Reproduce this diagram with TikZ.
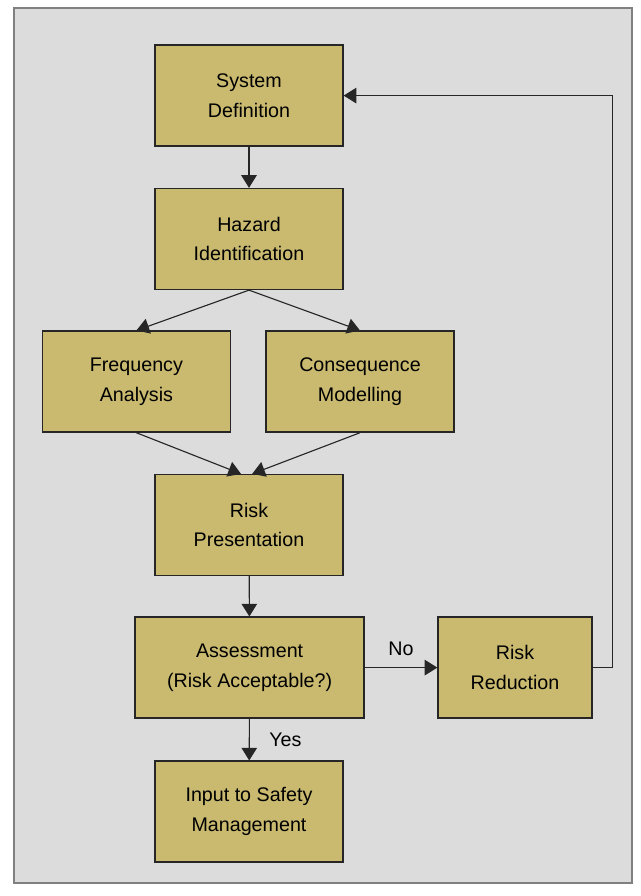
\documentclass[tikz,border=0pt]{standalone}
\usepackage{fontspec}
\setmainfont{Liberation Sans}
\usepackage{xcolor}
\usetikzlibrary{positioning,arrows.meta}

\definecolor{boxfill}{RGB}{201,186,112}
\definecolor{panel}{RGB}{220,220,220}

\begin{document}
\begin{tikzpicture}[every node/.style={draw=black!85, line width=0.9pt, fill=boxfill, minimum width=4.7cm, minimum height=2.525cm, align=center, font=\fontsize{14}{21}\selectfont},
    link/.style={draw=black!85, line width=0.8pt, -{Triangle[width=11pt,length=9pt]}},
    tag/.style={draw=none, fill=none, minimum width=0pt, minimum height=0pt, inner sep=1pt}]
        \useasboundingbox (0,0) rectangle (16.025,-22.4);
        \filldraw[fill=panel, draw=black!50, line width=0.8pt] (0.35,-0.2) rectangle (15.8,-22.075);

        % Colonna centrale
        \node (SD) at (6.225,-2.39) {System\\Definition};
        \node (HI) at (6.225,-5.975) {Hazard\\Identification};
        \node (FA) at (3.41,-9.54) {Frequency\\Analysis};
        \node (CM) at (9.0,-9.54) {Consequence\\Modelling};
        \node (RP) at (6.225,-13.125) {Risk\\Presentation};
        \node (AS) at (6.24,-16.69) [minimum width=5.725cm] {Assessment\\(Risk Acceptable?)};
        \node (IS) at (6.225,-20.29) {Input to Safety\\Management};

        % Ramo di destra
        \node (RR) at (12.875,-16.69) [minimum width=3.85cm] {Risk\\Reduction};

        % Collegamenti
        \draw[link] (SD) -- (HI);
        \draw[link] (HI.south) -- (FA.north);
        \draw[link] (HI.south) -- (CM.north);
        \draw[link] (FA.south) -- ([xshift=-0.2cm]RP.north);
        \draw[link] (CM.south) -- ([xshift=0.08cm]RP.north);
        \draw[link] (RP) -- (AS);
        \draw[link] (AS) -- node[tag, above, yshift=0.25cm] {No} (RR);
        \draw[link] (AS) -- node[tag, right, xshift=0.45cm] {Yes} (IS);
        \draw[link] (RR.east) -- ++(0.5,0) |- (SD.east);
    \end{tikzpicture}
\end{document}
